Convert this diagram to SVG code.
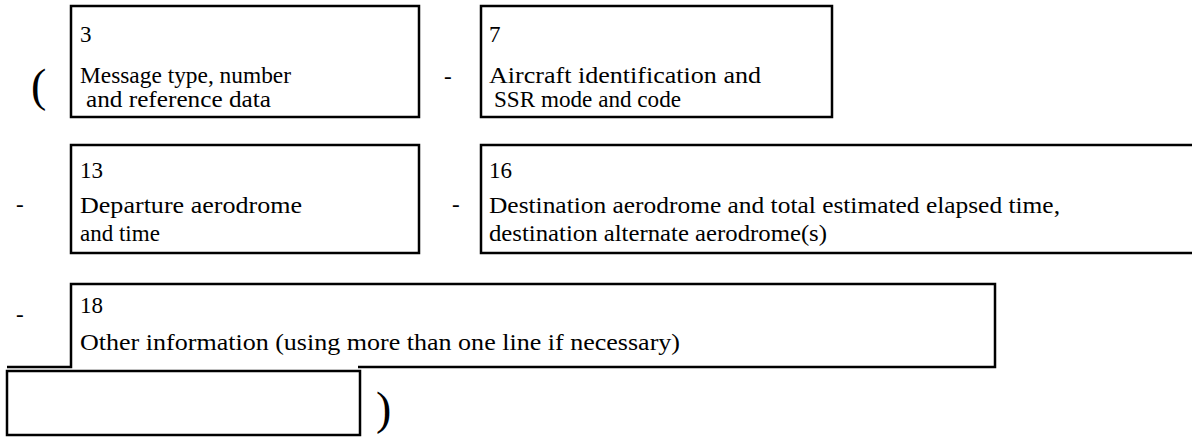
<svg xmlns="http://www.w3.org/2000/svg" width="1192" height="437" viewBox="0 0 1192 437">
<style>
.box{fill:none;stroke:#000;stroke-width:2.5}
.t{font-family:"Liberation Serif","Times New Roman",serif;font-size:23px;fill:#000}
.p{font-family:"Liberation Serif","Times New Roman",serif;font-size:46px;fill:#000}
</style>
<rect width="1192" height="437" fill="#fff"/>
<g id="connectors">
<text class="p" x="31" y="101">(</text>
<text class="t" x="444" y="84">-</text>
<text class="t" x="16" y="212">-</text>
<text class="t" x="452" y="212">-</text>
<text class="t" x="16" y="322">-</text>
<text class="p" x="376" y="424">)</text>
</g>
<g id="node-3">
<rect class="box" x="71" y="6" width="348" height="111"/>
<text class="t" x="80" y="42">3</text>
<text class="t" x="80" y="83" textLength="211" lengthAdjust="spacingAndGlyphs">Message type, number</text>
<text class="t" x="86" y="107" textLength="185" lengthAdjust="spacingAndGlyphs">and reference data</text>
</g>
<g id="node-7">
<rect class="box" x="481" y="6" width="351" height="111"/>
<text class="t" x="489" y="42">7</text>
<text class="t" x="489" y="83" textLength="272" lengthAdjust="spacingAndGlyphs">Aircraft identification and</text>
<text class="t" x="494" y="107" textLength="187" lengthAdjust="spacingAndGlyphs">SSR mode and code</text>
</g>
<g id="node-13">
<rect class="box" x="71" y="145" width="348" height="108"/>
<text class="t" x="80" y="178">13</text>
<text class="t" x="80" y="213" textLength="222" lengthAdjust="spacingAndGlyphs">Departure aerodrome</text>
<text class="t" x="80" y="241">and time</text>
</g>
<g id="node-16">
<path class="box" d="M1200,145 H481 V253 H1200"/>
<text class="t" x="489" y="178">16</text>
<text class="t" x="489" y="213" textLength="571" lengthAdjust="spacingAndGlyphs">Destination aerodrome and total estimated elapsed time,</text>
<text class="t" x="489" y="241" textLength="338" lengthAdjust="spacingAndGlyphs">destination alternate aerodrome(s)</text>
</g>
<g id="node-18">
<path class="box" d="M7,367 H71 V284 H995 V367 H358"/>
<text class="t" x="80" y="313">18</text>
<text class="t" x="80" y="350" textLength="600" lengthAdjust="spacingAndGlyphs">Other information (using more than one line if necessary)</text>
</g>
<g id="node-end">
<rect class="box" x="7" y="371" width="353" height="64"/>
</g>
</svg>
